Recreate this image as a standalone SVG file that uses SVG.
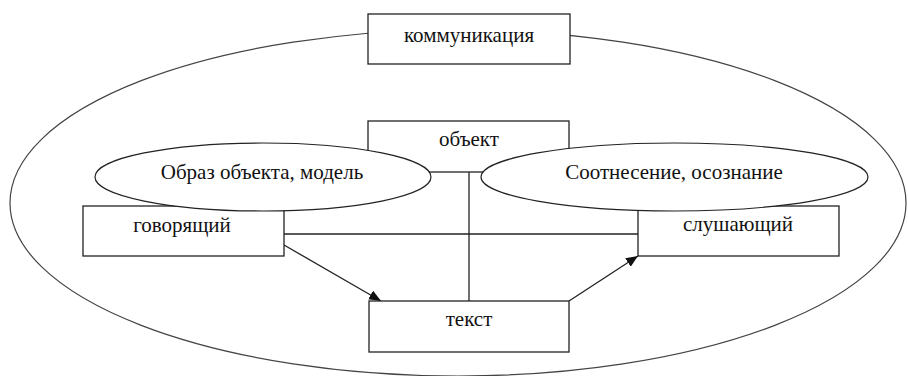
<svg xmlns="http://www.w3.org/2000/svg" width="908" height="376" viewBox="0 0 908 376">
<defs>
<style>
.box{fill:#fff;stroke:#222;stroke-width:1.3}
.ell{fill:#fff;stroke:#222;stroke-width:1.2}
.big{fill:none;stroke:#444;stroke-width:1.2}
.ln{stroke:#222;stroke-width:1.3;fill:none}
text{font-family:'Liberation Serif','DejaVu Serif',serif;font-size:21px;fill:#111;text-anchor:middle}
</style>
<marker id="arr" viewBox="0 0 12 10" refX="12" refY="5" markerWidth="12" markerHeight="10" markerUnits="userSpaceOnUse" orient="auto">
<path d="M0,0 L12,5 L0,10 z" fill="#111"/>
</marker>
</defs>
<rect width="908" height="376" fill="#fff"/>
<g id="communication-area">
<ellipse class="big" cx="458" cy="203" rx="448" ry="173"/>
</g>
<g id="kommunikatsiya">
<rect class="box" x="368" y="14" width="202" height="50"/>
<text x="469" y="42">коммуникация</text>
</g>
<g id="connectors">
<line class="ln" x1="284" y1="234" x2="638" y2="234"/>
<line class="ln" x1="469" y1="172" x2="469" y2="301"/>
<line class="ln" x1="284" y1="245" x2="381" y2="301" marker-end="url(#arr)"/>
<line class="ln" x1="569" y1="301" x2="638" y2="256" marker-end="url(#arr)"/>
</g>
<g id="obekt">
<rect class="box" x="368" y="121" width="201" height="51"/>
<text x="469" y="146">объект</text>
</g>
<g id="govoryashchiy">
<rect class="box" x="83" y="206" width="201" height="50"/>
<text x="182" y="232">говорящий</text>
</g>
<g id="slushayushchiy">
<rect class="box" x="638" y="206" width="201" height="50"/>
<text x="738" y="231">слушающий</text>
</g>
<g id="obraz">
<ellipse class="ell" cx="263" cy="177" rx="168" ry="34"/>
<text x="262" y="179">Образ объекта, модель</text>
</g>
<g id="sootnesenie">
<ellipse class="ell" cx="674.5" cy="177" rx="193.5" ry="34"/>
<text x="674" y="179">Соотнесение, осознание</text>
</g>
<g id="tekst">
<rect class="box" x="369" y="301" width="200" height="51"/>
<text x="469" y="326">текст</text>
</g>
</svg>
